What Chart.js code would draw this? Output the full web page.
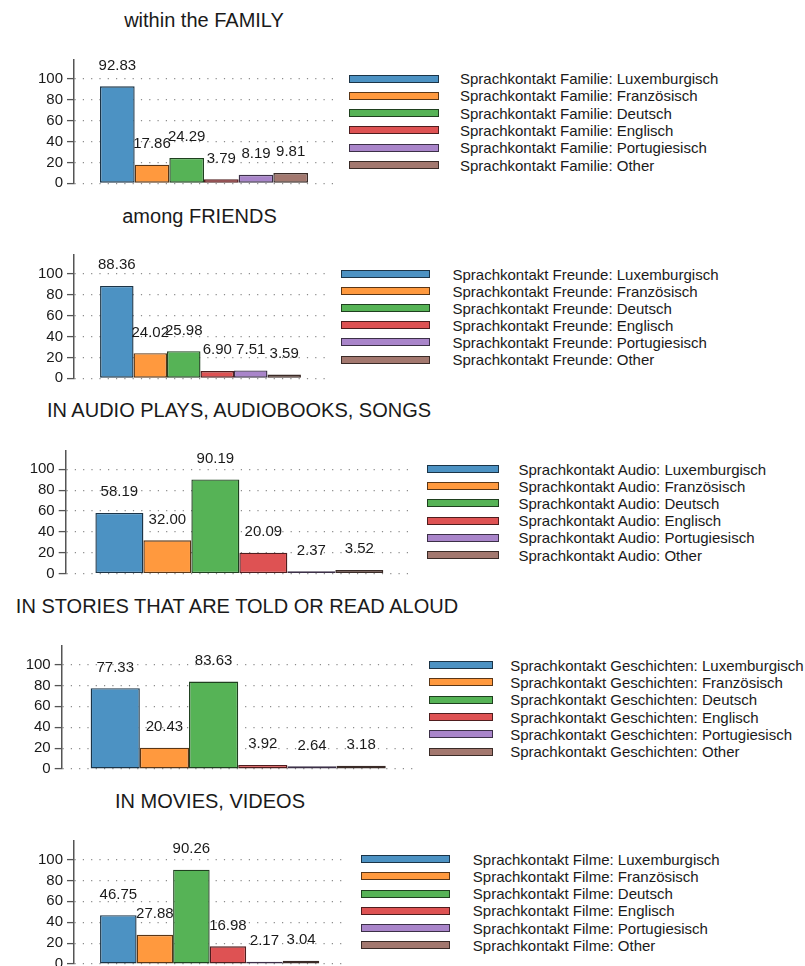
<!DOCTYPE html>
<html>
<head>
<meta charset="utf-8">
<script src="https://cdn.jsdelivr.net/npm/chart.js@4"></script>
<style>
  html, body { margin: 0; padding: 0; width: 805px; height: 966px; overflow: hidden; background: #fff; }
  body { position: relative; font-family: "Liberation Sans", Arial, Helvetica, sans-serif; color: #1a1a1a; }
  canvas { position: absolute; left: 0; }
  .title { position: absolute; font-size: 20px; line-height: 1; white-space: nowrap; transform: translate(-50%, -50%); }
  .legText { position: absolute; font-size: 15px; line-height: 1; white-space: nowrap; }
  .legBox { position: absolute; height: 8px; box-sizing: border-box; border: 1.2px solid; }
</style>
</head>
<body>
<script>
const languages = ["Luxemburgisch", "Französisch", "Deutsch", "Englisch", "Portugiesisch", "Other"];
const familyValues = [92.83, 17.86, 24.29, 3.79, 8.19, 9.81];
const friendsValues = [88.36, 24.02, 25.98, 6.90, 7.51, 3.59];
const audioValues = [58.19, 32.00, 90.19, 20.09, 2.37, 3.52];
const storiesValues = [77.33, 20.43, 83.63, 3.92, 2.64, 3.18];
const moviesValues = [46.75, 27.88, 90.26, 16.98, 2.17, 3.04];
const panelTitles = ["within the FAMILY", "among FRIENDS", "IN AUDIO PLAYS, AUDIOBOOKS, SONGS", "IN STORIES THAT ARE TOLD OR READ ALOUD", "IN MOVIES, VIDEOS"];
const legendPrefixes = ["Sprachkontakt Familie", "Sprachkontakt Freunde", "Sprachkontakt Audio", "Sprachkontakt Geschichten", "Sprachkontakt Filme"];
const yTicks = [0, 20, 40, 60, 80, 100];
const yMax = 118;

const fillColors = ["#4c92c3", "#ff993e", "#56b356", "#de5253", "#a985ca", "#a3786f"];
const edgeColors = ["#1b3447", "#5a3616", "#1f401f", "#4f1d1e", "#3c3048", "#3a2b27"];
const fontFamily = '"Liberation Sans", Arial, Helvetica, sans-serif';
const pxPerUnit = 1.045;

const panels = [
  { title: panelTitles[0], values: familyValues, prefix: legendPrefixes[0], axisX: 74, plotRight: 334, zeroY: 183.3, catPct: 0.8, titleX: 204, titleY: 20, legX: 349, legW: 90, textX: 460, legY: 78.5, legStep: 17.3 },
  { title: panelTitles[1], values: friendsValues, prefix: legendPrefixes[1], axisX: 74, plotRight: 327, zeroY: 378.3, catPct: 0.794, titleX: 199.5, titleY: 215.7, legX: 341, legW: 89, textX: 452.5, legY: 274, legStep: 17.1 },
  { title: panelTitles[2], values: audioValues, prefix: legendPrefixes[2], axisX: 65.7, plotRight: 413, zeroY: 573.7, catPct: 0.829, titleX: 239, titleY: 410, legX: 426.7, legW: 72.6, textX: 518.5, legY: 469, legStep: 17.2 },
  { title: panelTitles[3], values: storiesValues, prefix: legendPrefixes[3], axisX: 61.7, plotRight: 414.7, zeroY: 769, catPct: 0.836, titleX: 237, titleY: 606, legX: 429.3, legW: 64, textX: 510.2, legY: 665, legStep: 17.35 },
  { title: panelTitles[4], values: moviesValues, prefix: legendPrefixes[4], axisX: 74, plotRight: 345.3, zeroY: 964, catPct: 0.808, titleX: 210, titleY: 800.5, legX: 360.7, legW: 89.3, textX: 472.8, legY: 859, legStep: 17.26 }
];

const valueLabels = {
  id: "valueLabels",
  afterDatasetsDraw(chart) {
    const ctx = chart.ctx;
    ctx.save();
    ctx.font = "15px " + fontFamily;
    ctx.fillStyle = "#1a1a1a";
    ctx.textAlign = "center";
    ctx.textBaseline = "alphabetic";
    chart.data.datasets.forEach((ds, i) => {
      chart.getDatasetMeta(i).data.forEach((bar, j) => {
        ctx.fillText(ds.data[j].toFixed(2), bar.x, bar.y - 16.6);
      });
    });
    ctx.restore();
  }
};

function addTitle(p) {
  const t = document.createElement("div");
  t.className = "title";
  t.style.left = p.titleX + "px";
  t.style.top = p.titleY + "px";
  t.textContent = p.title;
  document.body.appendChild(t);
}

function addLegend(p) {
  languages.forEach((lang, i) => {
    const y = p.legY + i * p.legStep;
    const box = document.createElement("div");
    box.className = "legBox";
    box.style.left = p.legX + "px";
    box.style.top = (y - 4) + "px";
    box.style.width = p.legW + "px";
    box.style.background = fillColors[i];
    box.style.borderColor = edgeColors[i];
    document.body.appendChild(box);
    const txt = document.createElement("div");
    txt.className = "legText";
    txt.style.left = p.textX + "px";
    txt.style.top = (y - 7.5) + "px";
    txt.textContent = p.prefix + ": " + lang;
    document.body.appendChild(txt);
  });
}

function addChart(p) {
  const areaTop = p.zeroY - yMax * pxPerUnit;
  const canvasTop = Math.floor(areaTop - 20);
  const canvasBottom = Math.ceil(p.zeroY + 20);
  const canvasWidth = Math.ceil(p.plotRight) + 6;
  const canvas = document.createElement("canvas");
  canvas.width = canvasWidth;
  canvas.height = canvasBottom - canvasTop;
  canvas.style.top = canvasTop + "px";
  canvas.style.width = canvasWidth + "px";
  canvas.style.height = (canvasBottom - canvasTop) + "px";
  document.body.appendChild(canvas);

  new Chart(canvas, {
    type: "bar",
    data: {
      labels: [""],
      datasets: languages.map((lang, i) => ({
        label: p.prefix + ": " + lang,
        data: [p.values[i]],
        backgroundColor: fillColors[i],
        borderColor: edgeColors[i]
      }))
    },
    options: {
      responsive: false,
      animation: false,
      devicePixelRatio: 1,
      layout: { padding: { left: 0, top: areaTop - canvasTop, right: canvasWidth - p.plotRight, bottom: canvasBottom - p.zeroY } },
      datasets: { bar: { categoryPercentage: p.catPct, barPercentage: 1, borderWidth: 1.4, borderSkipped: false } },
      plugins: { legend: { display: false }, tooltip: { enabled: false }, title: { display: false } },
      scales: {
        x: { display: false },
        y: {
          min: 0,
          max: yMax,
          afterBuildTicks: s => { s.ticks = yTicks.map(v => ({ value: v })); },
          afterFit: s => { s.width = p.axisX; },
          ticks: { stepSize: 20, padding: 4, color: "#1a1a1a", font: { family: fontFamily, size: 15 } },
          grid: { color: "#8c8c8c", lineWidth: 1.2, tickLength: 7, tickColor: "#555", tickWidth: 1.3 },
          border: { display: true, color: "#555", width: 1.5, dash: [1.2, 7.1] }
        }
      }
    },
    plugins: [valueLabels]
  });
}

panels.forEach(p => {
  addTitle(p);
  addChart(p);
  addLegend(p);
});
</script>
</body>
</html>
